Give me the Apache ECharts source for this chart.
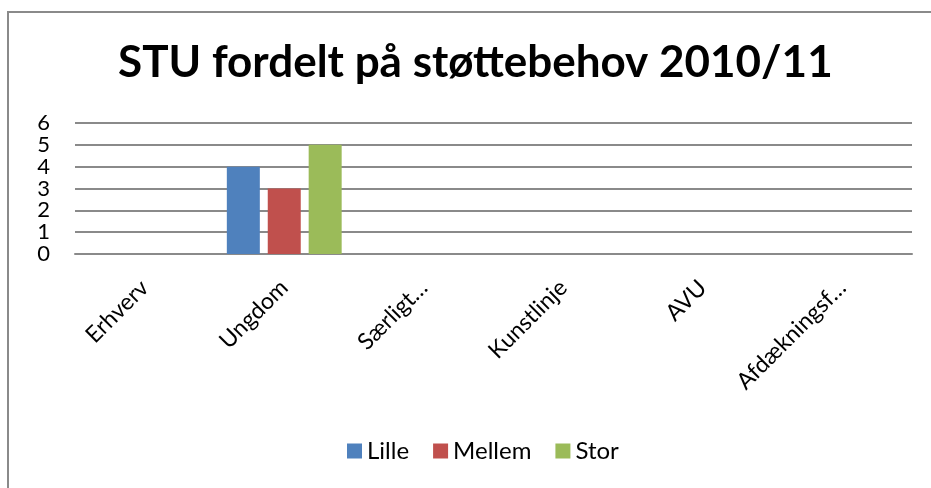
<!DOCTYPE html>
<html>
<head>
<meta charset="utf-8">
<script src="https://cdn.jsdelivr.net/npm/echarts@6/dist/echarts.min.js"></script>
<style>
  html, body { margin: 0; padding: 0; background: #fff; }
  #chart { width: 931px; height: 488px; }
</style>
</head>
<body>
<div id="chart"></div>
<script>
var categories = ['Erhverv', 'Ungdom', 'Særligt…', 'Kunstlinje', 'AVU', 'Afdækningsf…'];
var lille = [0, 4, 0, 0, 0, 0];
var mellem = [0, 3, 0, 0, 0, 0];
var stor = [0, 5, 0, 0, 0, 0];
var yTicks = [0, 1, 2, 3, 4, 5, 6];

(function () {
  var myChart = echarts.init(document.getElementById('chart'));
  var font = 'Lato, "Liberation Sans", sans-serif';
  var gridLine = { color: '#8a8a8a', width: 2 };
  var option = {
    animation: false,
    color: ['#4f81bd', '#c0504d', '#9bbb59'],
    graphic: [{
      type: 'rect',
      shape: { x: 8, y: 12, width: 1000, height: 1000 },
      style: { fill: 'none', stroke: '#8a8a8a', lineWidth: 2 }
    }],
    title: {
      text: 'STU fordelt på støttebehov 2010/11',
      left: 113,
      top: 36,
      textStyle: { fontFamily: font, fontWeight: 'bold', fontSize: 44, color: '#000' }
    },
    legend: {
      bottom: 20,
      left: 342,
      itemWidth: 15,
      itemHeight: 15,
      itemGap: 24,
      icon: 'rect',
      textStyle: { fontFamily: font, fontSize: 24, color: '#000' },
      data: ['Lille', 'Mellem', 'Stor']
    },
    grid: { left: 75, right: 19, top: 123, bottom: 234 },
    xAxis: {
      type: 'category',
      data: categories,
      axisTick: { show: false },
      axisLine: { lineStyle: gridLine },
      axisLabel: {
        rotate: 45,
        margin: 30,
        interval: 0,
        fontFamily: font,
        fontSize: 23,
        color: '#000'
      }
    },
    yAxis: {
      type: 'value',
      min: yTicks[0],
      max: yTicks[yTicks.length - 1],
      interval: 1,
      axisLine: { show: false },
      axisTick: { show: false },
      axisLabel: { margin: 25, fontFamily: font, fontSize: 22, color: '#000' },
      splitLine: { lineStyle: gridLine }
    },
    series: [
      { name: 'Lille', type: 'bar', data: lille, barWidth: 33, barGap: '24%' },
      { name: 'Mellem', type: 'bar', data: mellem, barWidth: 33, barGap: '24%' },
      { name: 'Stor', type: 'bar', data: stor, barWidth: 33, barGap: '24%' }
    ]
  };
  myChart.setOption(option);
})();
</script>
</body>
</html>
